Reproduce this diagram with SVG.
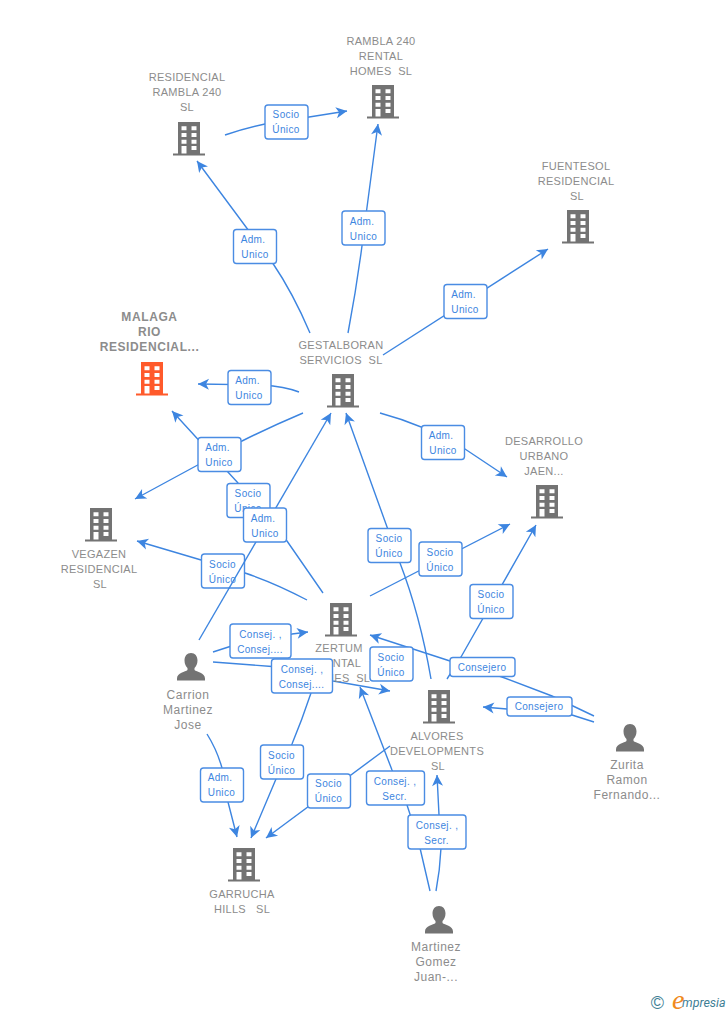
<svg xmlns="http://www.w3.org/2000/svg" width="728" height="1015" viewBox="0 0 728 1015">
<style>
text{font-family:"Liberation Sans",Arial,sans-serif;white-space:pre}
.n{font-size:11px;letter-spacing:.3px;fill:#8c8c8c;text-anchor:middle}
.p{font-size:12px;letter-spacing:.5px;fill:#8c8c8c;text-anchor:middle}
.m{font-size:12px;letter-spacing:.6px;font-weight:bold;fill:#8c8c8c;text-anchor:middle}
.c{fill:none;stroke:#3d85e0;stroke-width:1.4;marker-end:url(#a)}
.b{fill:#fff;stroke:#4a8ce3;stroke-width:1.4}
.l{font-size:10px;letter-spacing:.35px;fill:#3d85e0;text-anchor:middle}
</style>
<defs>
<marker id="a" markerUnits="userSpaceOnUse" markerWidth="14" markerHeight="14" viewBox="-12 -7 14 14" refX="0" refY="0" orient="auto"><path d="M0 0L-11-5.500L-8 0L-11 5.500Z" fill="#3d85e0"/></marker>
<symbol id="bld" width="32" height="34" viewBox="0 0 32 34"><path fill-rule="evenodd" d="M5 0H27V31.500H32V33.500H0V31.500H5ZM8.500 4.300V8.300H13.500V4.300ZM18.500 4.300V8.300H23.500V4.300ZM8.500 11V15H13.500V11ZM18.500 11V15H23.500V11ZM8.500 17.700V21.700H13.500V17.700ZM18.500 17.700V21.700H23.500V17.700ZM8.500 24V31.500H13.500V24ZM18.500 24V28H23.500V24Z"/></symbol>
<symbol id="psn" width="28" height="28" viewBox="0 0 28 28"><path d="M14 0C18 0 20.500 3 20.500 7.500C20.500 11 19 13.500 17.500 15V17C19.500 19 28 19.500 28 25.500V27.500H0V25.500C0 19.500 8.500 19 10.500 17V15C9 13.500 7.500 11 7.500 7.500C7.500 3 10 0 14 0Z"/></symbol>
</defs>
<g id="connectors">
<path class="c" d="M225 135Q245 128 265 124L347 111"/>
<path class="c" d="M310 333Q293 293 272 262L197 161"/>
<path class="c" d="M348 333Q358 280 364 230L378 124"/>
<path class="c" d="M383 355L548 249"/>
<path class="c" d="M299 392Q285 386.500 262 385L198 384"/>
<path class="c" d="M303 413Q270 427 242 441L135 499"/>
<path class="c" d="M323 593L287 541Q262 508 238 483L172 411"/>
<path class="c" d="M307 600Q275 583 245 573L137 541"/>
<path class="c" d="M380 413Q425 425 465 449L507 477"/>
<path class="c" d="M431 679Q420 615 400 563L346 413"/>
<path class="c" d="M370 596L510 524"/>
<path class="c" d="M447 679L461 657L536 525"/>
<path class="c" d="M594 716L552 696L502 677Q476 668 450 661L370 635"/>
<path class="c" d="M594 722L572 715Q545 708 507 709L483 707"/>
<path class="c" d="M213 652L230 646.500Q260 637 292 634L308 632"/>
<path class="c" d="M213 662L272 666.500L333 681L390 691"/>
<path class="c" d="M207 734Q217 750 222 768L228 802L237 837"/>
<path class="c" d="M316 680L311 693Q302 720 292 744L276 779L251 838"/>
<path class="c" d="M390 746L266 838"/>
<path class="c" d="M430 891L420 848Q414 825 407 805L392 770L360 687"/>
<path class="c" d="M436 891Q440 870 441 848L439 815L437 775"/>
</g>
<g id="n-residencial"><use href="#bld" x="173" y="122" fill="#737373"/><text class="n"><tspan x="187" y="81">RESIDENCIAL</tspan><tspan x="187" y="96">RAMBLA 240</tspan><tspan x="187" y="111">SL</tspan></text></g>
<g id="n-rambla"><use href="#bld" x="367" y="85" fill="#737373"/><text class="n"><tspan x="381" y="45">RAMBLA 240</tspan><tspan x="381" y="60">RENTAL</tspan><tspan x="381" y="75">HOMES  SL</tspan></text></g>
<g id="n-fuentesol"><use href="#bld" x="562" y="210" fill="#737373"/><text class="n"><tspan x="576" y="170">FUENTESOL</tspan><tspan x="576" y="185">RESIDENCIAL</tspan><tspan x="577" y="200">SL</tspan></text></g>
<g id="n-malaga"><use href="#bld" x="136" y="362" fill="#ff5a2b"/><text class="m"><tspan x="149.500" y="321">MALAGA</tspan><tspan x="149.500" y="336">RIO</tspan><tspan x="149.500" y="351">RESIDENCIAL...</tspan></text></g>
<g id="n-gestalboran"><use href="#bld" x="327" y="374" fill="#737373"/><text class="n"><tspan x="341" y="349">GESTALBORAN</tspan><tspan x="341" y="364">SERVICIOS  SL</tspan></text></g>
<g id="n-desarrollo"><use href="#bld" x="531" y="485" fill="#737373"/><text class="n"><tspan x="544" y="445">DESARROLLO</tspan><tspan x="544" y="460">URBANO</tspan><tspan x="544" y="475">JAEN...</tspan></text></g>
<g id="n-vegazen"><use href="#bld" x="85" y="508" fill="#737373"/><text class="n"><tspan x="99" y="558">VEGAZEN</tspan><tspan x="99" y="573">RESIDENCIAL</tspan><tspan x="100" y="588">SL</tspan></text></g>
<g id="n-zertum"><use href="#bld" x="325" y="603" fill="#737373"/><text class="n"><tspan x="339" y="652">ZERTUM</tspan><tspan x="339" y="667">RENTAL</tspan><tspan x="339" y="682">HOMES  SL</tspan></text></g>
<g id="n-alvores"><use href="#bld" x="423" y="690" fill="#737373"/><text class="n"><tspan x="437" y="740">ALVORES</tspan><tspan x="437" y="755">DEVELOPMENTS</tspan><tspan x="438" y="770">SL</tspan></text></g>
<g id="n-garrucha"><use href="#bld" x="228" y="848" fill="#737373"/><text class="n"><tspan x="242" y="898">GARRUCHA</tspan><tspan x="242" y="913">HILLS   SL</tspan></text></g>
<g id="n-carrion"><use href="#psn" x="177" y="653" fill="#737373"/><text class="p"><tspan x="188" y="699">Carrion</tspan><tspan x="188" y="714">Martinez</tspan><tspan x="188" y="729">Jose</tspan></text></g>
<g id="n-zurita"><use href="#psn" x="616" y="724" fill="#737373"/><text class="p"><tspan x="627" y="769">Zurita</tspan><tspan x="627" y="784">Ramon</tspan><tspan x="627" y="799">Fernando...</tspan></text></g>
<g id="n-martinez"><use href="#psn" x="425" y="906" fill="#737373"/><text class="p"><tspan x="436" y="951">Martinez</tspan><tspan x="436" y="966">Gomez</tspan><tspan x="436" y="981">Juan-...</tspan></text></g>
<g id="edge-labels-under">
<g><rect class="b" x="201.500" y="554" width="43" height="34" rx="3"/><text class="l"><tspan x="222.500" y="567.500">Socio</tspan><tspan x="222.500" y="582.500">Único</tspan></text></g>
<g><rect class="b" x="227" y="483.500" width="43" height="34" rx="3"/><text class="l"><tspan x="248" y="497">Socio</tspan><tspan x="248" y="512">Único</tspan></text></g>
</g>
<g id="connectors-over">
<path class="c" d="M199 640L331 413"/>
</g>
<g id="edge-labels">
<g><rect class="b" x="265" y="105" width="43" height="34" rx="3"/><text class="l"><tspan x="286" y="118">Socio</tspan><tspan x="286" y="133">Único</tspan></text></g>
<g><rect class="b" x="233.500" y="229.500" width="43" height="34" rx="3"/><text class="l"><tspan x="253" y="243">Adm.</tspan><tspan x="255" y="258">Unico</tspan></text></g>
<g><rect class="b" x="342" y="211" width="43" height="34" rx="3"/><text class="l"><tspan x="362" y="224.500">Adm.</tspan><tspan x="363.500" y="239.500">Unico</tspan></text></g>
<g><rect class="b" x="444" y="284.500" width="43" height="34" rx="3"/><text class="l"><tspan x="463.500" y="298">Adm.</tspan><tspan x="465" y="313">Unico</tspan></text></g>
<g><rect class="b" x="228" y="370.500" width="43" height="34" rx="3"/><text class="l"><tspan x="247.500" y="383.500">Adm.</tspan><tspan x="249" y="398.500">Unico</tspan></text></g>
<g><rect class="b" x="198" y="437.500" width="43" height="34" rx="3"/><text class="l"><tspan x="217.500" y="451">Adm.</tspan><tspan x="219" y="466">Unico</tspan></text></g>
<g><rect class="b" x="243.500" y="508" width="43" height="34" rx="3"/><text class="l"><tspan x="263" y="521.500">Adm.</tspan><tspan x="265" y="536.500">Unico</tspan></text></g>
<g><rect class="b" x="421.500" y="425.500" width="43" height="34" rx="3"/><text class="l"><tspan x="441" y="439">Adm.</tspan><tspan x="443" y="454">Unico</tspan></text></g>
<g><rect class="b" x="368" y="528.500" width="43" height="34" rx="3"/><text class="l"><tspan x="389" y="542">Socio</tspan><tspan x="389" y="557">Único</tspan></text></g>
<g><rect class="b" x="419" y="542" width="43" height="34" rx="3"/><text class="l"><tspan x="440" y="555.500">Socio</tspan><tspan x="440" y="570.500">Único</tspan></text></g>
<g><rect class="b" x="470" y="584.500" width="43" height="34" rx="3"/><text class="l"><tspan x="491" y="597.500">Socio</tspan><tspan x="491" y="612.500">Único</tspan></text></g>
<g><rect class="b" x="230" y="624" width="61" height="34" rx="3"/><text class="l"><tspan x="260.500" y="637.500">Consej. ,</tspan><tspan x="260" y="652.500">Consej....</tspan></text></g>
<g><rect class="b" x="271.500" y="659" width="61" height="34" rx="3"/><text class="l"><tspan x="302" y="672.500">Consej. ,</tspan><tspan x="301.500" y="687.500">Consej....</tspan></text></g>
<g><rect class="b" x="370" y="647" width="43" height="34" rx="3"/><text class="l"><tspan x="391" y="660.500">Socio</tspan><tspan x="391" y="675.500">Único</tspan></text></g>
<g><rect class="b" x="450" y="657.500" width="65" height="19" rx="3"/><text class="l"><tspan x="482" y="671">Consejero</tspan></text></g>
<g><rect class="b" x="507" y="697" width="65" height="19" rx="3"/><text class="l"><tspan x="539" y="710">Consejero</tspan></text></g>
<g><rect class="b" x="200.500" y="768" width="43" height="34" rx="3"/><text class="l"><tspan x="220" y="781">Adm.</tspan><tspan x="221.500" y="796">Unico</tspan></text></g>
<g><rect class="b" x="260.500" y="745" width="43" height="34" rx="3"/><text class="l"><tspan x="281.500" y="758.500">Socio</tspan><tspan x="281.500" y="773.500">Único</tspan></text></g>
<g><rect class="b" x="307.500" y="774" width="43" height="34" rx="3"/><text class="l"><tspan x="328.500" y="787">Socio</tspan><tspan x="328.500" y="802">Único</tspan></text></g>
<g><rect class="b" x="366.500" y="771" width="58" height="34" rx="3"/><text class="l"><tspan x="395" y="784.500">Consej. ,</tspan><tspan x="394.500" y="799.500">Secr.</tspan></text></g>
<g><rect class="b" x="408" y="815" width="58" height="34" rx="3"/><text class="l"><tspan x="437" y="829">Consej. ,</tspan><tspan x="436.500" y="844">Secr.</tspan></text></g>
</g>
<g id="logo">
<text x="657.500" y="1009" font-size="18" fill="#3f7f96" text-anchor="middle">©</text>
<text x="672" y="1009" font-size="28" font-style="italic" fill="#f08a1d" style="font-family:'Liberation Serif',serif">e</text>
<text x="682" y="1007" font-size="12.500" font-style="italic" fill="#3f7f96" style="font-family:Roboto,sans-serif">mpresia</text>
</g>
</svg>
